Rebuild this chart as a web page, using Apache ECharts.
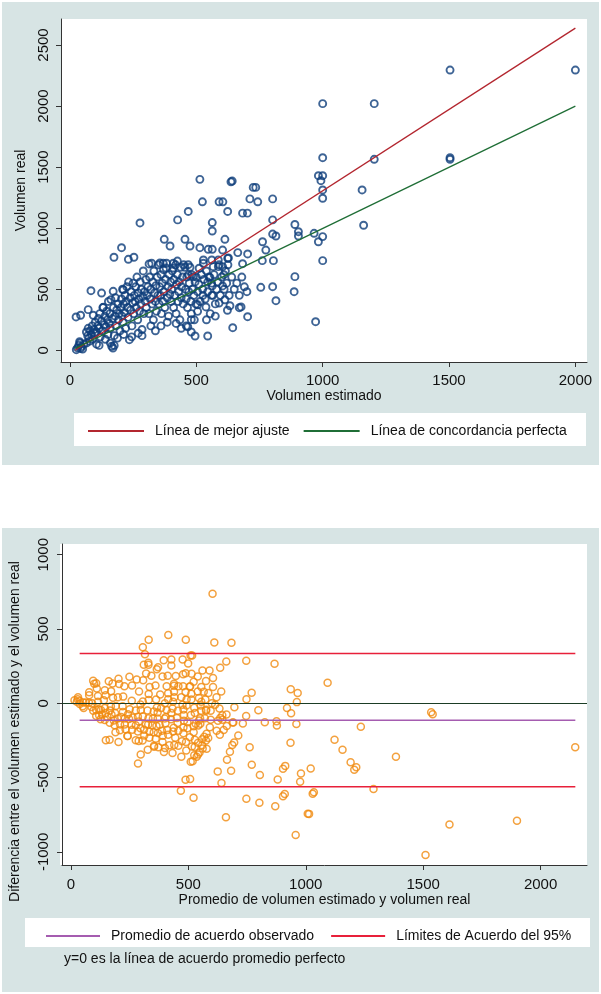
<!DOCTYPE html>
<html>
<head>
<meta charset="utf-8">
<script src="https://cdn.jsdelivr.net/npm/echarts@6/dist/echarts.min.js"></script>
<style>
html, body { margin: 0; padding: 0; background: #fff; }
#chart { width: 601px; height: 994px; }
</style>
</head>
<body>
<div id="chart"></div>
<script>
// pares [volumen estimado, volumen real]
const puntos = [
  [277,1043],[514,1400],[637,1380],[642,1386],[725,1334],[735,1334],[524,1216],[590,1216],[605,1216],[743,1216],
  [712,1240],[802,1240],[468,1137],[624,1137],[683,1123],[702,1123],[426,1068],[563,1046],[563,977],[802,1068],
  [890,1030],[802,952],[815,936],[373,909],[455,909],[613,909],[762,889],[1504,2295],[2000,2295],[1000,2020],
  [1204,2020],[1000,1577],[1204,1564],[1504,1577],[1504,1564],[983,1430],[1000,1430],[993,1389],[1000,1313],[1000,1245],
  [1156,1313],[1162,1024],[966,958],[1000,931],[983,889],[1000,734],[972,234],[904,971],[904,936],[761,734],
  [805,734],[703,789],[664,800],[755,516],[802,521],[815,406],[890,603],[887,480],[703,275],[644,185],
  [545,117],[495,117],[670,349],[683,709],[627,756],[514,840],[547,827],[563,827],[604,821],[775,821],
  [528,740],[561,740],[587,740],[624,753],[396,854],[475,854],[204,840],[174,762],[231,745],[253,762],
  [313,707],[425,731],[609,619],[554,598],[545,559],[604,527],[563,527],[526,450],[561,450],[505,373],
  [505,319],[538,355],[623,328],[633,365],[613,414],[590,387],[677,355],
  [25,5],[30,20],[35,40],[40,60],[45,30],[50,10],[38,70],[55,50],[42,15],
  [65,150],[70,120],[72,180],[75,100],[80,160],[85,130],[88,200],[90,90],[92,287],[95,170],
  [83,488],[24,273],[42,287],[72,333],[98,140],[100,230],[66,60],[78,75],
  [105,150],[110,200],[112,260],[115,180],[118,300],[120,110],[125,469],[125,240],[128,160],[130,350],
  [132,352],[135,210],[138,280],[140,90],[142,190],[145,320],[148,250],[150,130],[105,50],[115,40],
  [152,400],[155,220],[158,300],[160,180],[162,415],[165,33],[168,260],[170,19],[171,483],[172,350],
  [175,120],[178,280],[180,430],[182,200],[185,330],[188,100],[190,380],[192,250],[195,300],[198,160],[160,60],[175,40],
  [202,350],[204,420],[206,280],[208,500],[210,230],[211,496],[212,380],[215,310],[218,450],[220,180],
  [222,400],[225,520],[228,350],[230,270],[232,560],[235,87],[238,430],[240,330],[242,480],[245,200],[248,390],[250,550],[212,130],[244,110],
  [252,300],[255,450],[258,400],[260,520],[262,350],[265,600],[268,250],[270,470],[272,420],[275,320],
  [278,560],[280,380],[282,500],[285,170],[288,440],[290,650],[292,300],[295,480],[298,400],[300,580],[270,140],[285,120],
  [302,350],[305,450],[308,520],[312,300],[315,600],[318,420],[320,500],[323,713],[325,380],[328,560],
  [330,250],[332,650],[335,470],[338,400],[340,530],[342,320],[345,600],[348,450],[350,700],[320,200],[338,160],
  [352,380],[355,520],[356,715],[358,450],[360,620],[362,300],[365,550],[368,400],[369,713],[370,660],
  [372,480],[375,350],[378,580],[380,674],[382,713],[385,430],[388,520],[390,280],[392,620],[395,460],[398,560],[400,400],[360,200],[385,230],
  [402,500],[405,650],[409,674],[409,713],[410,350],[412,580],[415,450],[418,700],[420,300],[422,540],
  [425,620],[428,400],[430,480],[432,560],[435,250],[438,680],[440,430],[442,520],[445,600],[448,380],[450,700],[455,680],[420,220],[440,180],
  [458,500],[460,420],[462,600],[465,350],[468,617],[468,701],[470,480],[472,550],[475,680],[478,400],
  [480,300],[482,620],[485,500],[488,603],[490,450],[492,250],[495,560],[498,380],[500,600],[505,480],
  [510,540],[511,672],[515,400],[520,620],[460,200],[480,150],[466,193],[480,251],
  [525,500],[528,713],[530,580],[535,420],[540,650],[545,480],[550,600],[555,300],[560,550],[565,450],
  [567,685],[570,620],[575,380],[580,500],[585,560],[587,685],[590,700],[595,450],[600,600],[604,685],[540,250],[575,280],
  [610,500],[615,650],[620,550],[625,700],[630,450],[640,600],[650,500],[660,550],[670,450],[680,600],[690,520],[700,480]
];

// rectas del primer grafico
const ajusteX = [20, 2000];
const ajusteY = [0, 2638];
const concordanciaX = [20, 2000];
const concordanciaY = [16, 2000];

// lineas de Bland-Altman
const promedioAcuerdo = -114;
const limitesAcuerdo = [336, -561];
const limitesX = [37, 2148];

const ticksEstimado = [0, 500, 1000, 1500, 2000];
const ticksReal = [0, 500, 1000, 1500, 2000, 2500];
const ticksPromedio = [0, 500, 1000, 1500, 2000];
const ticksDiferencia = [-1000, -500, 0, 500, 1000];

const puntosBA = puntos.map(p => [(p[0] + p[1]) / 2, p[0] - p[1]]);

const fuente = 'Liberation Sans, Arial, sans-serif';
const colorEje = '#333';

function eje(extra) {
    return Object.assign({
        type: 'value',
        splitLine: { show: false },
        axisLine: { show: true, onZero: false, lineStyle: { color: colorEje, width: 1 } },
        nameLocation: 'middle',
        nameTextStyle: { color: '#111', fontSize: 14, fontFamily: fuente },
    }, extra);
}

function etiquetas(valores, extra) {
    return Object.assign({
        customValues: valores,
        formatter: v => String(v),
        color: '#111', fontSize: 15, fontFamily: fuente
    }, extra);
}

function marcas(valores) {
    return { show: true, length: 5, lineStyle: { color: colorEje }, customValues: valores };
}

const chart = echarts.init(document.getElementById('chart'));

const option = {
    animation: false,
    backgroundColor: '#fff',
    graphic: [
        { type: 'rect', z: -10, shape: { x: 2, y: 2, width: 597, height: 463 }, style: { fill: '#d7e4e4' } },
        { type: 'rect', z: -9, shape: { x: 61, y: 19, width: 526, height: 343 }, style: { fill: '#fff' } },
        { type: 'rect', z: -9, shape: { x: 74, y: 413, width: 512, height: 33 }, style: { fill: '#fff' } },
        { type: 'rect', z: -10, shape: { x: 2, y: 528, width: 597, height: 464 }, style: { fill: '#d7e4e4' } },
        { type: 'rect', z: -9, shape: { x: 60, y: 544, width: 527, height: 321 }, style: { fill: '#fff' } },
        { type: 'rect', z: -9, shape: { x: 25, y: 918, width: 565, height: 29 }, style: { fill: '#fff' } },
        {
            type: 'text', left: 64, top: 952,
            style: { text: 'y=0 es la línea de acuerdo promedio perfecto', fill: '#111', font: '14px ' + fuente }
        }
    ],
    grid: [
        { left: 61, top: 19, width: 526, height: 343 },
        { left: 60, top: 544, width: 527, height: 321 }
    ],
    legend: [
        {
            data: ['Línea de mejor ajuste', 'Línea de concordancia perfecta'],
            left: 83, top: 419, icon: 'rect', itemWidth: 56, itemHeight: 2, itemGap: 14,
            selectedMode: false,
            textStyle: { color: '#111', fontSize: 14, fontFamily: fuente, padding: [0, 0, 0, 6] }
        },
        {
            data: ['Promedio de acuerdo observado', 'Límites de Acuerdo del 95%'],
            left: 41, top: 924, icon: 'rect', itemWidth: 54, itemHeight: 2, itemGap: 17,
            selectedMode: false,
            textStyle: { color: '#111', fontSize: 14, fontFamily: fuente, padding: [0, 0, 0, 6] }
        }
    ],
    xAxis: [
        eje({
            gridIndex: 0, min: -35.6, max: 2046,
            name: 'Volumen estimado', nameGap: 23,
            axisTick: marcas(ticksEstimado),
            axisLabel: etiquetas(ticksEstimado, { margin: 11 })
        }),
        eje({
            gridIndex: 1, min: -38.2, max: 2197.7,
            name: 'Promedio de volumen estimado y volumen real', nameGap: 25,
            axisTick: marcas(ticksPromedio),
            axisLabel: etiquetas(ticksPromedio, { margin: 12 })
        })
    ],
    yAxis: [
        eje({
            gridIndex: 0, min: -95.8, max: 2713,
            name: 'Volumen real', nameGap: 28,
            axisTick: marcas(ticksReal),
            axisLabel: etiquetas(ticksReal, { rotate: 90, margin: 10 })
        }),
        eje({
            gridIndex: 1, min: -1088, max: 1072,
            name: 'Diferencia entre el volumen estimado y el volumen real', nameGap: 40,
            nameTextStyle: { color: '#111', fontSize: 14, fontFamily: fuente, padding: [0, 54, 0, 0] },
            axisTick: marcas(ticksDiferencia),
            axisLabel: etiquetas(ticksDiferencia, { rotate: 90, margin: 11 })
        })
    ],
    series: [
        {
            name: 'Volumen', type: 'scatter', xAxisIndex: 0, yAxisIndex: 0, z: 2,
            symbol: 'circle', symbolSize: 7,
            itemStyle: { color: 'rgba(0,0,0,0)', borderColor: '#0e3d7a', borderWidth: 1.9 },
            data: puntos
        },
        {
            name: 'Línea de mejor ajuste', type: 'line', xAxisIndex: 0, yAxisIndex: 0, z: 3,
            showSymbol: false, color: '#b3262f', lineStyle: { width: 1.3 },
            data: ajusteX.map((x, i) => [x, ajusteY[i]])
        },
        {
            name: 'Línea de concordancia perfecta', type: 'line', xAxisIndex: 0, yAxisIndex: 0, z: 3,
            showSymbol: false, color: '#1f6e36', lineStyle: { width: 1.3 },
            data: concordanciaX.map((x, i) => [x, concordanciaY[i]])
        },
        {
            name: 'Bland-Altman', type: 'scatter', xAxisIndex: 1, yAxisIndex: 1, z: 2,
            symbol: 'circle', symbolSize: 7,
            itemStyle: { color: 'rgba(0,0,0,0)', borderColor: '#f08a0e', borderWidth: 1.5 },
            markLine: {
                silent: true, symbol: 'none', label: { show: false },
                lineStyle: { color: '#1b3d25', width: 1.2, type: 'solid' },
                data: [{ yAxis: 0 }]
            },
            data: puntosBA
        },
        {
            name: 'Promedio de acuerdo observado', type: 'line', xAxisIndex: 1, yAxisIndex: 1, z: 3,
            showSymbol: false, color: '#a55cb0', lineStyle: { width: 1.5 },
            data: limitesX.map(x => [x, promedioAcuerdo])
        },
        {
            name: 'Límites de Acuerdo del 95%', type: 'line', xAxisIndex: 1, yAxisIndex: 1, z: 3,
            showSymbol: false, color: '#e8203a', lineStyle: { width: 1.5 },
            data: limitesX.map(x => [x, limitesAcuerdo[0]])
        },
        {
            name: 'Límites de Acuerdo del 95%', type: 'line', xAxisIndex: 1, yAxisIndex: 1, z: 3,
            showSymbol: false, color: '#e8203a', lineStyle: { width: 1.5 },
            data: limitesX.map(x => [x, limitesAcuerdo[1]])
        }
    ]
};

chart.setOption(option);
</script>
</body>
</html>
